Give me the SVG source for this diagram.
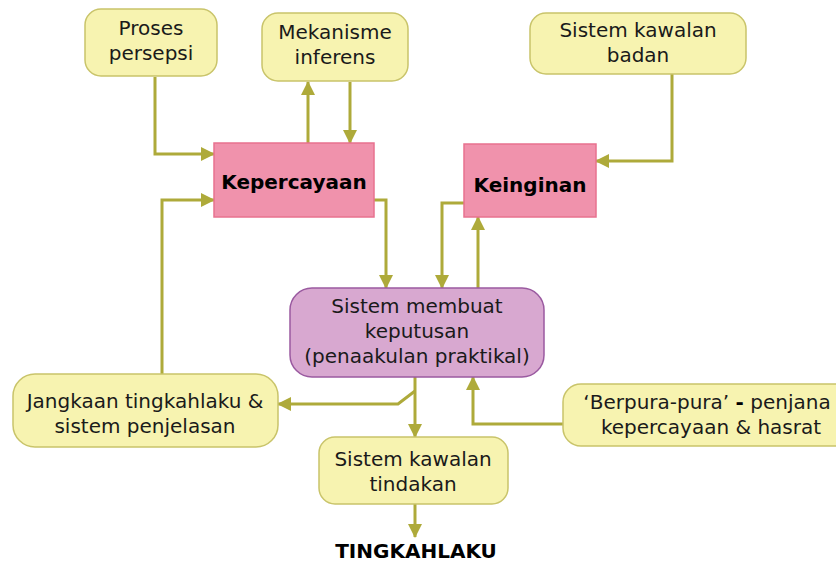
<svg xmlns="http://www.w3.org/2000/svg" width="836" height="562" viewBox="0 0 836 562">
<style>
.y{fill:#f7f3b0;stroke:#c9c46a;stroke-width:1.5}
.p{fill:#f092ac;stroke:#e8728f;stroke-width:1.5}
.v{fill:#d8a8d0;stroke:#9a5aa0;stroke-width:1.5}
text{font-family:"DejaVu Sans",Verdana,sans-serif;font-size:20px;fill:#1a1a1a;text-anchor:middle}
.b{font-weight:bold;fill:#000}
.c{fill:none;stroke:#aeaa3a;stroke-width:3}
</style>
<defs>
<marker id="a" markerWidth="14" markerHeight="14" refX="13" refY="7" orient="auto" markerUnits="userSpaceOnUse">
<path d="M0,0 L14,7 L0,14 Z" fill="#aeaa3a"/>
</marker>
</defs>
<g id="connectors">
<path class="c" d="M155,77 V154 H214" marker-end="url(#a)"/>
<path class="c" d="M308,143 V82" marker-end="url(#a)"/>
<path class="c" d="M350,82 V143" marker-end="url(#a)"/>
<path class="c" d="M162,374 V200 H214" marker-end="url(#a)"/>
<path class="c" d="M374,200 H386 V288" marker-end="url(#a)"/>
<path class="c" d="M672,74 V161 H596" marker-end="url(#a)"/>
<path class="c" d="M464,203 H442 V288" marker-end="url(#a)"/>
<path class="c" d="M478,288 V217" marker-end="url(#a)"/>
<path class="c" d="M415,377 V437" marker-end="url(#a)"/>
<path class="c" d="M415,391 L398,404 H278" marker-end="url(#a)"/>
<path class="c" d="M563,424 H473 V377" marker-end="url(#a)"/>
<path class="c" d="M415,504 V537" marker-end="url(#a)"/>
</g>
<g id="proses">
<rect class="y" x="85" y="9" width="132" height="67" rx="16"/>
<text x="151" y="35">Proses</text>
<text x="151" y="60">persepsi</text>
</g>
<g id="mekanisme">
<rect class="y" x="262" y="13" width="146" height="68" rx="16"/>
<text x="335" y="39">Mekanisme</text>
<text x="335" y="64">inferens</text>
</g>
<g id="badan">
<rect class="y" x="530" y="13" width="216" height="61" rx="16"/>
<text x="638" y="37">Sistem kawalan</text>
<text x="638" y="62">badan</text>
</g>
<g id="kepercayaan">
<rect class="p" x="214" y="143" width="160" height="74"/>
<text class="b" x="294" y="189">Kepercayaan</text>
</g>
<g id="keinginan">
<rect class="p" x="464" y="144" width="132" height="73"/>
<text class="b" x="530" y="192">Keinginan</text>
</g>
<g id="keputusan">
<rect class="v" x="290" y="288" width="254" height="89" rx="22"/>
<text x="417" y="313">Sistem membuat</text>
<text x="417" y="338">keputusan</text>
<text x="417" y="363">(penaakulan praktikal)</text>
</g>
<g id="jangkaan">
<rect class="y" x="13" y="374" width="265" height="73" rx="22"/>
<text x="145" y="408">Jangkaan tingkahlaku &amp;</text>
<text x="145" y="433">sistem penjelasan</text>
</g>
<g id="berpura">
<rect class="y" x="563" y="384" width="290" height="62" rx="18"/>
<text x="707" y="409">‘Berpura-pura’ <tspan class="b">-</tspan> penjana</text>
<text x="711" y="434">kepercayaan &amp; hasrat</text>
</g>
<g id="tindakan">
<rect class="y" x="319" y="437" width="189" height="67" rx="16"/>
<text x="413" y="466">Sistem kawalan</text>
<text x="413" y="491">tindakan</text>
</g>
<g id="tingkahlaku">
<text class="b" x="416" y="558">TINGKAHLAKU</text>
</g>
</svg>
